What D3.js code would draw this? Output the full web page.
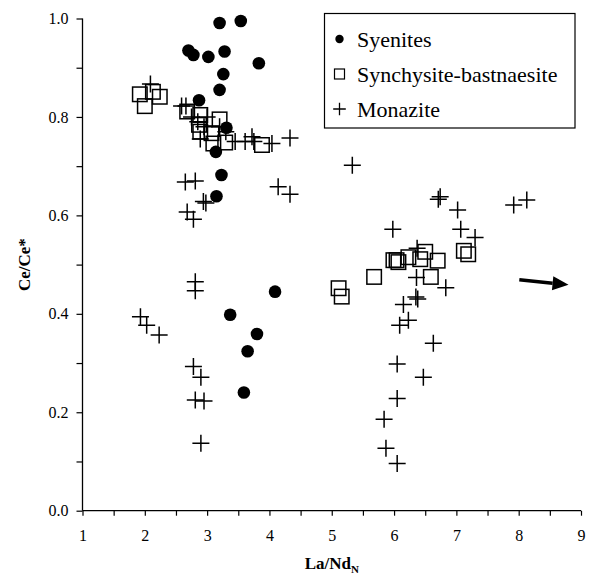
<!DOCTYPE html>
<html>
<head>
<meta charset="utf-8">
<script src="https://cdn.jsdelivr.net/npm/d3@7"></script>
<style>
  html, body { margin: 0; padding: 0; background: #fff; }
  svg { display: block; }
  text { font-family: "Liberation Serif", "Times New Roman", serif; fill: #000; }
</style>
</head>
<body>
<svg id="chart" width="598" height="578"></svg>
<script>
// Syenite whole-rock analyses
const syeniteX = [3.20, 3.54, 2.70, 2.78, 3.02, 3.28, 3.83, 3.26, 3.20, 2.87, 3.31, 3.14, 3.23, 3.15, 4.09, 3.37, 3.80, 3.65, 3.59];
const syeniteY = [0.991, 0.995, 0.935, 0.926, 0.922, 0.933, 0.909, 0.887, 0.855, 0.834, 0.778, 0.729, 0.682, 0.639, 0.445, 0.398, 0.359, 0.324, 0.240];

// Synchysite-bastnaesite grains
const synchX = [1.92, 2.00, 2.13, 2.24, 2.68, 2.89, 2.87, 3.20, 2.89, 3.07, 3.10, 3.29, 3.88,
                5.11, 5.16, 5.68, 5.99, 6.04, 6.07, 6.23, 6.42, 6.50, 6.70, 6.59, 7.12, 7.19];
const synchY = [0.846, 0.822, 0.851, 0.841, 0.811, 0.804, 0.784, 0.795, 0.770, 0.767, 0.746, 0.748, 0.743,
                0.452, 0.435, 0.475, 0.509, 0.509, 0.505, 0.515, 0.511, 0.526, 0.508, 0.475, 0.528, 0.521];

// Monazite grains
const monaziteX = [2.09, 2.59, 2.66, 2.75, 2.85, 2.95, 3.00, 3.20, 3.30, 2.89, 3.45, 3.61, 3.72, 3.75, 4.04, 4.33,
                   5.33, 2.65, 2.81, 4.14, 4.33, 2.94, 2.98, 2.68, 2.78, 2.81, 2.81,
                   1.93, 2.03, 2.23, 2.78, 2.90, 2.81, 2.95, 2.90,
                   5.98, 6.71, 6.74, 7.02, 7.92, 8.13, 7.07, 7.30, 6.37, 6.36, 6.83, 6.35, 6.38,
                   6.15, 6.23, 6.09, 6.63, 6.05, 6.47, 6.05, 5.84, 5.87, 6.05];
const monaziteY = [0.867, 0.822, 0.822, 0.800, 0.790, 0.780, 0.800, 0.780, 0.770, 0.755, 0.750, 0.750, 0.760, 0.750, 0.746, 0.757,
                   0.702, 0.668, 0.670, 0.658, 0.643, 0.628, 0.625, 0.607, 0.592, 0.465, 0.447,
                   0.394, 0.377, 0.357, 0.293, 0.271, 0.225, 0.223, 0.137,
                   0.572, 0.633, 0.638, 0.611, 0.621, 0.631, 0.572, 0.555, 0.533, 0.474, 0.453, 0.434, 0.430,
                   0.419, 0.387, 0.377, 0.340, 0.298, 0.271, 0.228, 0.186, 0.127, 0.096];

// Axis ticks
const xTicks = [1, 2, 3, 4, 5, 6, 7, 8, 9];
const yTicks = [0, 0.2, 0.4, 0.6, 0.8, 1.0];

const legendLabels = ["Syenites", "Synchysite-bastnaesite", "Monazite"];

const svg = d3.select("#chart");
const serif = "'Liberation Serif', 'Times New Roman', serif";

const x = d3.scaleLinear().domain([1, 9]).range([82.5, 581]);
const y = d3.scaleLinear().domain([0, 1]).range([510.7, 18.5]);

// Axes: minor ticks every 0.5 (x) and 0.1 (y), labels on the major ones
const xAxis = d3.axisBottom(x)
  .tickValues(d3.range(1, 9.01, 0.5))
  .tickSize(5).tickPadding(14)
  .tickFormat(d => xTicks.includes(d) ? d3.format("d")(d) : "");
const yAxis = d3.axisLeft(y)
  .tickValues(d3.range(0, 1.001, 0.1).map(v => +v.toFixed(1)))
  .tickSize(6).tickPadding(8)
  .tickFormat(d => yTicks.some(t => Math.abs(t - d) < 1e-9) ? d3.format(".1f")(d) : "");

const gx = svg.append("g").attr("transform", `translate(0,${y(0)})`).call(xAxis);
const gy = svg.append("g").attr("transform", `translate(${x(1)},0)`).call(yAxis);
[gx, gy].forEach(g => {
  g.attr("font-family", serif).attr("font-size", 16);
  g.select(".domain").attr("stroke", "#000").attr("stroke-width", 1.3);
  g.selectAll(".tick line").attr("stroke", "#000").attr("stroke-width", 1.2);
  g.selectAll(".tick text").style("font-family", serif).style("font-size", "16px").attr("fill", "#000");
});
gx.select(".domain").attr("d", `M${x(1)},0H${x(9)}`);
gy.select(".domain").attr("d", `M0,${y(1)}V${y(0)}`);

// Axis titles
svg.append("text")
  .attr("x", (x(1) + x(9)) / 2).attr("y", 569)
  .attr("text-anchor", "middle")
  .style("font-family", serif)
  .style("font-size", "17px").style("font-weight", "bold")
  .text("La/Nd")
  .append("tspan").attr("dy", 4).style("font-size", "11px").text("N");

svg.append("text")
  .attr("transform", `translate(30,${(y(0) + y(1)) / 2}) rotate(-90)`)
  .attr("text-anchor", "middle")
  .style("font-family", serif)
  .style("font-size", "17px").style("font-weight", "bold")
  .text("Ce/Ce*");

// Markers
const crossPath = s => `M${-s},0H${s}M0,${-s}V${s}`;
const plot = svg.append("g");

plot.selectAll("circle.syenite")
  .data(d3.zip(syeniteX, syeniteY)).join("circle")
  .attr("class", "syenite")
  .attr("cx", d => x(d[0])).attr("cy", d => y(d[1]))
  .attr("r", 6.3).attr("fill", "#000");

const sq = 14.5;
plot.selectAll("rect.synch")
  .data(d3.zip(synchX, synchY)).join("rect")
  .attr("class", "synch")
  .attr("x", d => x(d[0]) - sq / 2).attr("y", d => y(d[1]) - sq / 2)
  .attr("width", sq).attr("height", sq)
  .attr("fill", "none").attr("stroke", "#000").attr("stroke-width", 1.5);

plot.selectAll("path.monazite")
  .data(d3.zip(monaziteX, monaziteY)).join("path")
  .attr("class", "monazite")
  .attr("transform", d => `translate(${x(d[0])},${y(d[1])})`)
  .attr("d", crossPath(8.5))
  .attr("fill", "none").attr("stroke", "#000").attr("stroke-width", 1.5);

// Arrow pointing to values off the scale
const a0 = [x(8.01), y(0.469)], a1 = [x(8.80), y(0.459)];
const ang = Math.atan2(a1[1] - a0[1], a1[0] - a0[0]);
const headLen = 16, headW = 7;
const hb = [a1[0] - headLen * Math.cos(ang), a1[1] - headLen * Math.sin(ang)];
svg.append("line")
  .attr("x1", a0[0]).attr("y1", a0[1]).attr("x2", hb[0]).attr("y2", hb[1])
  .attr("stroke", "#000").attr("stroke-width", 3.5);
svg.append("path")
  .attr("d", `M${a1[0]},${a1[1]}L${hb[0] - headW * Math.sin(ang)},${hb[1] + headW * Math.cos(ang)}L${hb[0] + headW * Math.sin(ang)},${hb[1] - headW * Math.cos(ang)}Z`)
  .attr("fill", "#000");

// Legend
const lg = svg.append("g");
lg.append("rect").attr("x", 324.5).attr("y", 13.5).attr("width", 250.5).attr("height", 114.5)
  .attr("fill", "#fff").attr("stroke", "#000").attr("stroke-width", 1.2);
const rowY = [39, 74, 109];
legendLabels.forEach((lab, i) => {
  const cy = rowY[i], cx = 339.5;
  if (i === 0) lg.append("circle").attr("cx", cx).attr("cy", cy).attr("r", 4.2).attr("fill", "#000");
  if (i === 1) lg.append("rect").attr("x", cx - 5).attr("y", cy - 5).attr("width", 10).attr("height", 10)
    .attr("fill", "none").attr("stroke", "#000").attr("stroke-width", 1.2);
  if (i === 2) lg.append("path").attr("transform", `translate(${cx},${cy})`).attr("d", crossPath(6.3))
    .attr("stroke", "#000").attr("stroke-width", 1.3);
  lg.append("text").attr("x", 357).attr("y", cy + 7.5)
    .style("font-family", serif).style("font-size", "22px").text(lab);
});
</script>
</body>
</html>
